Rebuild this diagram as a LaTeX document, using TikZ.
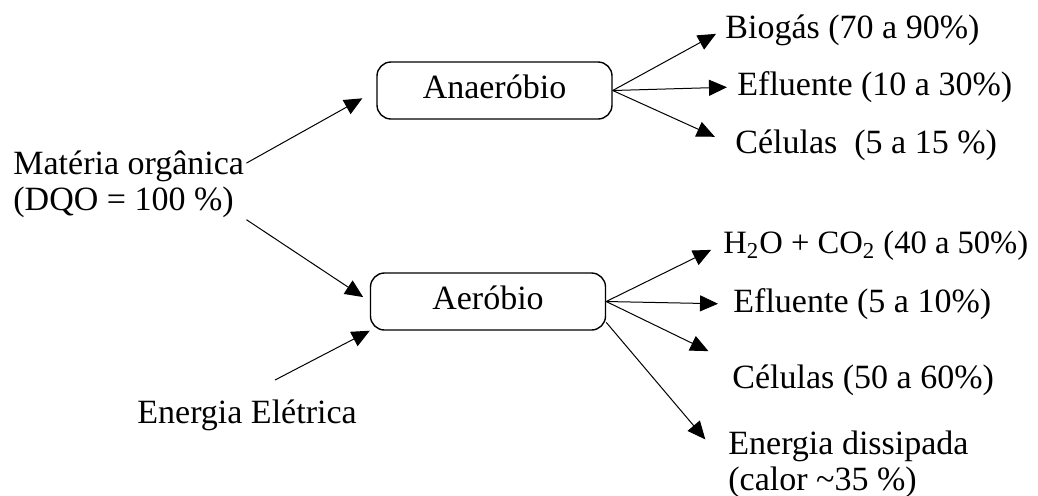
\documentclass[tikz,border=0pt]{standalone}
\usepackage{fontspec}
\setmainfont{Liberation Serif}
\usetikzlibrary{arrows.meta}

\begin{document}
\begin{tikzpicture}
    [x=0.5pt, y=-0.5pt,
    font=\fontsize{17pt}{18pt}\selectfont,
    arr/.style={line width=0.5pt, -{Triangle[length=9pt, width=8pt]}},
    proc/.style={draw, line width=0.7pt, rounded corners=7pt, minimum width=117.5pt, minimum height=28.5pt, text height=12pt, text depth=4pt, inner sep=1pt},
    prod/.style={anchor=base west, inner sep=1pt, text height=12pt, text depth=4pt},
    txttwo/.style={anchor=north west, align=left, inner sep=1pt}]
    \useasboundingbox (0,0) rectangle (1038,495);
        %% Processes
    \node[proc] (A) at (494.5,90.5) {Anaeróbio};
    \node[proc] (B) at (488,301.5) {Aeróbio};

        %% Inputs
    \node[txttwo] (M) at (11,148) {Matéria orgânica\\(DQO = 100 \%)};
    \node[prod] (W) at (135,423) {Energia Elétrica};
    \coordinate (W0) at (275,380);

    \draw[arr, shorten >=8pt] (M.10) -- (A.west);
    \draw[arr, shorten >=4pt] (M.south east) -- (B.west);
    \draw[arr] (W0) -- (B.south west);

        %% Anaerobio
    \node[prod] (A1) at (723,38) {Biogás (70 a 90\%)};
    \node[prod] (A2) at (735,95) {Efluente (10 a 30\%)};
    \node[prod] (A3) at (733,153) {Células\ \ (5 a 15 \%)};

    \draw[arr, shorten >=4pt] (A.east) -- (A1.west);
    \draw[arr, shorten >=4pt] (A.east) -- (A2.west);
    \draw[arr, shorten >=10pt] (A.east) -- (A3.west);

        %% Aerobio
    \node[prod, font=\fontsize{16.3pt}{18pt}\selectfont] (B1) at (721,253) {H\textsubscript{2}O + CO\textsubscript{2} (40 a 50\%)};
    \node[prod] (B2) at (731,312) {Efluente (5 a 10\%)};
    \node[prod] (B3) at (730,388) {Células (50 a 60\%)};
    \node[txttwo] (B4) at (726,428) {Energia dissipada\\(calor \textasciitilde35 \%)};

    \draw[arr, shorten >=5.5pt] (B.east) -- (B1.west);
    \draw[arr, shorten >=6.5pt] (B.east) -- (B2.west);
    \draw[arr, shorten >=12pt] (B.east) -- (B3.north west);
    \draw[arr, shorten >=16pt] (B.-10) -- (B4.west);
\end{tikzpicture}
\end{document}
